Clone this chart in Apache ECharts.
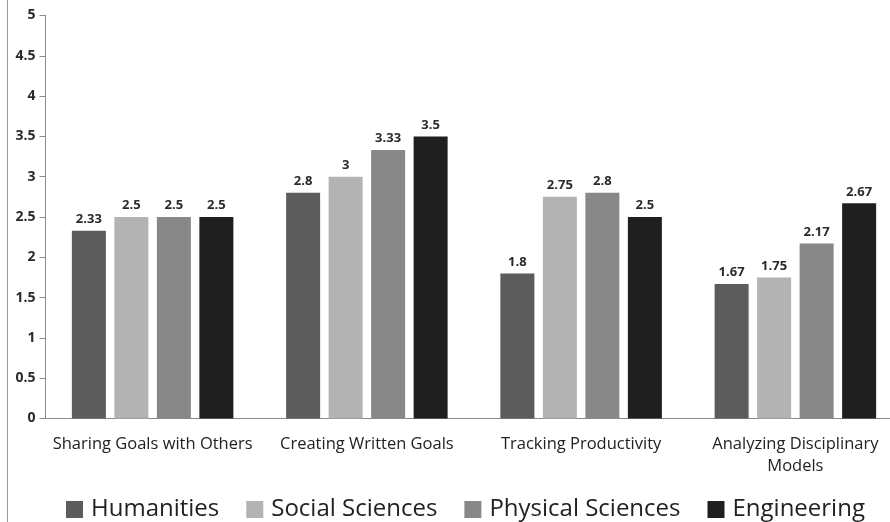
<!DOCTYPE html>
<html><head><meta charset="utf-8">
<script src="https://cdn.jsdelivr.net/npm/echarts@6/dist/echarts.min.js"></script>
<style>html,body{margin:0;padding:0;background:#fff}#c{width:890px;height:522px}</style>
</head><body><div id="c"></div>
<script>
const categories = ['Sharing Goals with Others', 'Creating Written Goals', 'Tracking Productivity', 'Analyzing Disciplinary\nModels'];
const seriesNames = ['Humanities', 'Social Sciences', 'Physical Sciences', 'Engineering'];
const humanities = [2.33, 2.8, 1.8, 1.67];
const socialSciences = [2.5, 3, 2.75, 1.75];
const physicalSciences = [2.5, 3.33, 2.8, 2.17];
const engineering = [2.5, 3.5, 2.5, 2.67];
const yTicks = [0, 0.5, 1, 1.5, 2, 2.5, 3, 3.5, 4, 4.5, 5];
const colors = ['#5c5c5c', '#b3b3b3', '#888888', '#1f1f1f'];
const values = [humanities, socialSciences, physicalSciences, engineering];

const FONT = 'Open Sans';
const chart = echarts.init(document.getElementById('c'));
chart.setOption({
  animation: false,
  textStyle: { fontFamily: FONT },
  grid: { left: 45.5, top: 15.5, height: 403, width: 857, outerBoundsMode: 'none', containLabel: false },
  legend: {
    top: 491, left: 61,
    itemWidth: 17, itemHeight: 17, itemGap: 27,
    icon: 'rect',
    textStyle: { fontSize: 24, color: '#222', fontFamily: FONT, lineHeight: 27, padding: [0, 0, 0, 3] },
    data: seriesNames
  },
  xAxis: {
    type: 'category', data: categories,
    axisLine: { lineStyle: { color: '#8a8a8a', width: 1 } },
    axisTick: { show: false },
    axisLabel: { fontSize: 16.5, color: '#222', margin: 14.5, lineHeight: 22.5, interval: 0 }
  },
  yAxis: {
    type: 'value', min: 0, max: 5, interval: 0.5,
    axisLine: { show: true, lineStyle: { color: '#8a8a8a' } },
    axisTick: { show: true, length: 6, lineStyle: { color: '#8a8a8a' } },
    splitLine: { show: false },
    axisLabel: { fontSize: 14, color: '#2a2a2a', fontWeight: 'bold', margin: 10,
      formatter: v => yTicks.includes(v) ? String(v) : '' }
  },
  graphic: [{ type: 'line', shape: { x1: 7.5, y1: 0, x2: 7.5, y2: 522 }, style: { stroke: '#999', lineWidth: 1 } }],
  series: seriesNames.map((n, i) => ({
    name: n, type: 'bar', data: values[i],
    barWidth: 34, barGap: '25%',
    itemStyle: { color: colors[i] },
    label: { show: true, position: 'top', distance: 5, fontSize: 13, color: '#2a2a2a', fontWeight: 'bold',
      formatter: p => String(p.value) }
  }))
});
</script></body></html>
